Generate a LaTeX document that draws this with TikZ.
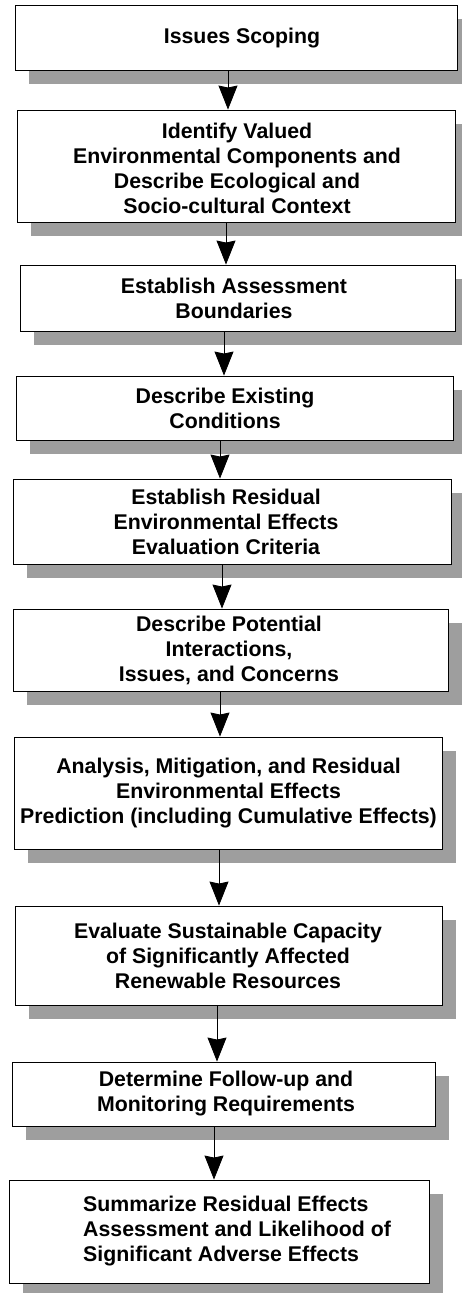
\documentclass[tikz,border=0pt]{standalone}
\usepackage{fontspec}
\setmainfont{Liberation Sans}
\usetikzlibrary{arrows.meta,shadows}
\begin{document}
\begin{tikzpicture}[x=1pt,y=-1pt,
  box/.style={draw=black, line width=0.9pt, fill=white, rectangle, inner sep=0pt,
    drop shadow={shadow xshift=14pt, shadow yshift=-13.5pt, fill=black!38, opacity=1, draw=none}},
  lbl/.style={align=center, font=\bfseries\fontsize{21.3}{25}\selectfont, inner sep=0pt},
  lbll/.style={align=left, anchor=west, font=\bfseries\fontsize{21.3}{25}\selectfont, inner sep=0pt},
  arr/.style={line width=0.8pt, -{Stealth[length=24pt,width=19pt,inset=2pt]}}]
\useasboundingbox (0,0) rectangle (462,1293);
\clip (0,0) rectangle (462,1293);
\fill[white] (0,0) rectangle (462,1293);

\node[box, minimum width=442pt, minimum height=65pt]  (b1)  at (236,37.5) {};
\node[box, minimum width=438pt, minimum height=112pt] (b2)  at (236,166) {};
\node[box, minimum width=435pt, minimum height=66pt]  (b3)  at (237.5,298) {};
\node[box, minimum width=437pt, minimum height=64pt]  (b4)  at (234.5,408) {};
\node[box, minimum width=438pt, minimum height=85pt]  (b5)  at (232,521.5) {};
\node[box, minimum width=435pt, minimum height=82pt]  (b6)  at (230.5,650) {};
\node[box, minimum width=428pt, minimum height=112pt] (b7)  at (228,793) {};
\node[box, minimum width=427pt, minimum height=99pt]  (b8)  at (228.5,955.5) {};
\node[box, minimum width=423pt, minimum height=64pt]  (b9)  at (223.5,1094) {};
\node[box, minimum width=420pt, minimum height=103pt] (b10) at (219,1231.5) {};

\node[lbl] (t1) at (242,38.5) {Issues Scoping};
\node[lbl] (t2) at (237,168) {Identify Valued\\Environmental Components and\\Describe Ecological and\\Socio-cultural Context};
\node[lbl] (t3) at (234,298) {Establish Assessment\\Boundaries};
\node[lbl] (t4) at (225,408) {Describe Existing\\Conditions};
\node[lbl] (t5) at (226,521.5) {Establish Residual\\Environmental Effects\\Evaluation Criteria};
\node[lbl] (t6) at (229,650) {Describe Potential\\Interactions,\\Issues, and Concerns};
\node[lbl] (t7) at (228.5,793) {Analysis, Mitigation, and Residual\\Environmental Effects\\Prediction (including Cumulative Effects)};
\node[lbl] (t8) at (228,955.5) {Evaluate Sustainable Capacity\\of Significantly Affected\\Renewable Resources};
\node[lbl] (t9) at (226,1094) {Determine Follow-up and\\Monitoring Requirements};
\node[lbll] (t10) at (83,1231.5) {Summarize Residual Effects\\Assessment and Likelihood of\\Significant Adverse Effects};

\coordinate (x1) at (228,0);
\coordinate (x2) at (226,0);
\coordinate (x3) at (224,0);
\coordinate (x4) at (220,0);
\coordinate (x5) at (222,0);
\coordinate (x6) at (220,0);
\coordinate (x7) at (219,0);
\coordinate (x8) at (217,0);
\coordinate (x9) at (214,0);

\draw[arr] (b1.south -| x1) -- (b2.north -| x1);
\draw[arr] (b2.south -| x2) -- (b3.north -| x2);
\draw[arr] (b3.south -| x3) -- (b4.north -| x3);
\draw[arr] (b4.south -| x4) -- (b5.north -| x4);
\draw[arr] (b5.south -| x5) -- (b6.north -| x5);
\draw[arr] (b6.south -| x6) -- (b7.north -| x6);
\draw[arr] (b7.south -| x7) -- (b8.north -| x7);
\draw[arr] (b8.south -| x8) -- (b9.north -| x8);
\draw[arr] (b9.south -| x9) -- (b10.north -| x9);
\end{tikzpicture}
\end{document}
